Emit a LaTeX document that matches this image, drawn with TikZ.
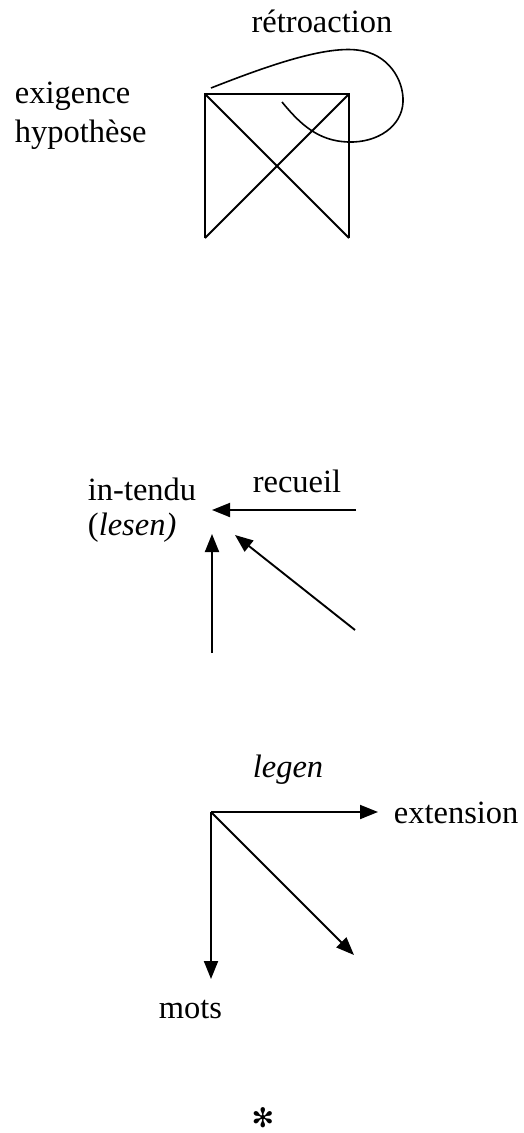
\documentclass[tikz,border=0pt]{standalone}
\usepackage{fontspec}
\setmainfont{Liberation Serif}
\newfontfamily\symfont{DejaVu Sans}
\usepackage{tikz}
\usetikzlibrary{arrows.meta}

\begin{document}
\begin{tikzpicture}[>={Triangle[length=18bp,width=14bp]}, line width=1.9bp,
	lbl/.style={inner sep=0pt, font=\fontsize{32.6}{38}\selectfont}]
	\useasboundingbox (0bp,0bp) rectangle (524bp,-1133bp);

	% la croix et la boucle
	\node (retro) at (322bp,-32bp)  [lbl, anchor=base]      {rétroaction};
	\node (exig)  at (14bp,-103bp)  [lbl, anchor=base west] {exigence};
	\node (hypo)  at (14bp,-142bp)  [lbl, anchor=base west] {hypothèse};

	\coordinate (tl) at (205bp,-94bp);
	\coordinate (tr) at (349bp,-94bp);
	\coordinate (bl) at (205bp,-238bp);
	\coordinate (br) at (349bp,-238bp);
	\coordinate (l0) at (211bp,-88bp);
	\coordinate (l1) at (282bp,-102bp);

	\draw (bl) -- (tl) -- (tr) -- (br);
	\draw (tl) -- (br);
	\draw (bl) -- (tr);
	\draw [line width=1.6bp] (l0) .. controls (262bp,-68bp) and (322bp,-46bp) .. (357bp,-50bp)
		.. controls (388bp,-53bp) and (404bp,-80bp) .. (403bp,-102bp)
		.. controls (402bp,-126bp) and (378bp,-143bp) .. (348bp,-142bp)
		.. controls (318bp,-141bp) and (300bp,-124bp) .. (l1);

	% in-tendu
	\node (intendu) at (87bp,-500bp)  [lbl, anchor=base west] {in-tendu};
	\node (lesen)   at (87bp,-535bp)  [lbl, anchor=base west] {(\textit{lesen)}};
	\node (recueil) at (297bp,-492bp) [lbl, anchor=base]      {recueil};

	\coordinate (r0) at (356bp,-510bp);
	\coordinate (r1) at (212bp,-510bp);
	\coordinate (v0) at (212bp,-653bp);
	\coordinate (v1) at (212bp,-534bp);
	\coordinate (d0) at (355bp,-630bp);
	\coordinate (d1) at (235bp,-535bp);

	\draw [->] (r0) -- (r1);
	\draw [->] (v0) -- (v1);
	\draw [->] (d0) -- (d1);

	% legen
	\node (legen) at (288bp,-777bp)  [lbl, anchor=base]      {\textit{legen}};
	\node (ext)   at (393bp,-823bp)  [lbl, anchor=base west] {extension};
	\node (mots)  at (158bp,-1018bp) [lbl, anchor=base west] {mots};

	\coordinate (o)  at (211bp,-812bp);
	\coordinate (e1) at (378bp,-812bp);
	\coordinate (s1) at (354bp,-955bp);
	\coordinate (m1) at (211bp,-979bp);

	\draw [->] (o) -- (e1);
	\draw [->] (o) -- (s1);
	\draw [->] (o) -- (m1);

	\node (etoile) at (263bp,-1118bp) [inner sep=0pt, font=\symfont\fontsize{27}{27}\selectfont] {✻};
\end{tikzpicture}
\end{document}
